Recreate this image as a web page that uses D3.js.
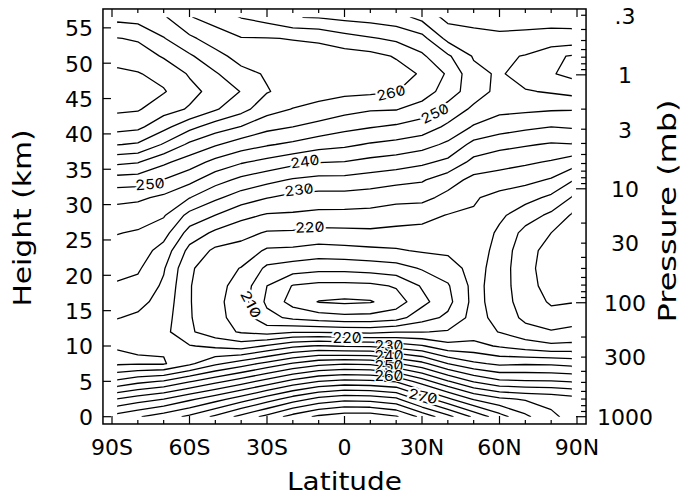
<!DOCTYPE html>
<html>
<head>
<meta charset="utf-8">
<script src="https://cdn.jsdelivr.net/npm/d3@7"></script>
<style>
  html, body { margin: 0; padding: 0; background: #fff; }
  svg { display: block; }
  text { font-family: 'DejaVu Sans', sans-serif; fill: #000; }
  .clabel { font-family: Inter, 'DejaVu Sans', sans-serif; font-size: 14px; font-feature-settings: 'zero' 1; }
</style>
</head>
<body>
<svg id="chart" width="689" height="499"></svg>
<script>
// grid columns (latitude, deg) and rows (height, km)
const lats = [-88, -80, -70, -60, -50, -40, -30, -20, -10, 0, 10, 20, 30, 40, 50, 60, 70, 80, 88]
const heights = [0, 2.5, 5, 7.5, 10, 12, 14, 16.25, 18.5, 21, 23.5, 26, 28.5, 31, 33.5, 36, 38.5, 41, 43.5, 46, 48.5, 51, 53.5, 56.5]

// zonal mean temperature (K), one row per height, south to north
const t00 = [262, 264.5, 267.5, 271, 276, 281.5, 286.5, 292, 296, 298, 298, 295.5, 288.5, 281.5, 274, 267, 261, 256, 253.5]
const t02 = [250.2, 252.5, 255, 259, 263, 267.5, 272.5, 277.5, 281.5, 283.5, 283, 281, 273, 266, 259.5, 256, 254.5, 253.5, 252]
const t05 = [236, 238.5, 240.5, 244.5, 248.5, 252.5, 257, 261.5, 265, 266.5, 266, 264.5, 257.5, 250.5, 244.5, 241, 240.5, 240.3, 239.7]
const t07 = [224.3, 224.6, 224.5, 229, 234, 237.5, 241.5, 245.5, 248.5, 249.5, 249, 245.5, 241.5, 235, 231, 229, 229.5, 229.3, 228.5]
const t10 = [225.2, 225.4, 225.8, 225.3, 224, 222.5, 225.5, 229, 230.5, 229.5, 229.2, 227.5, 225.5, 221.5, 221.5, 219.5, 217.5, 216, 216.2]
const t12 = [227.5, 227.2, 226.5, 220.8, 217, 214.5, 213, 214.5, 214.5, 214, 213.5, 214.8, 214.8, 215.5, 217.5, 214.8, 212, 210.5, 211.5]
const t14 = [230.2, 229.2, 227.3, 220.4, 216.5, 213, 206.5, 204, 202.5, 201.5, 201.8, 203, 208, 211, 216.8, 213.5, 208.8, 206.5, 207.5]
const t16 = [232.4, 231.4, 228.2, 220.3, 216.3, 212.5, 204, 198, 194.8, 194.2, 194.6, 197.5, 203.5, 208.5, 216.5, 213, 207.2, 204.5, 204.8]
const t18 = [234.5, 233.6, 229.2, 220.3, 216.5, 213.3, 205, 199.7, 198.5, 198.5, 198.8, 200.5, 205.5, 209.5, 216.5, 212.8, 206.5, 203.5, 202.8]
const t21 = [236.4, 235.7, 230.5, 220.7, 217.2, 214.8, 209, 207.5, 206.5, 206.5, 207.2, 208, 210.5, 212.5, 217, 212.8, 206.3, 203, 202]
const t23 = [238.2, 237.6, 233, 223.5, 219, 218, 214.3, 214, 213, 213.5, 214, 214.5, 215.5, 216, 217.8, 213.2, 206.8, 203.2, 202]
const t26 = [240.2, 239.5, 237, 228, 224, 221.7, 219.5, 219.3, 218.5, 218.7, 219, 218.5, 218.5, 218.3, 218.8, 214, 208.5, 205, 203.2]
const t28 = [242.8, 242.3, 240.5, 233.5, 230, 226.5, 224.5, 224.3, 223.6, 223.5, 223.3, 222.5, 221.5, 219.8, 219.5, 216, 212.3, 209, 204.5]
const t31 = [246.4, 245.9, 244, 240.2, 236, 232.5, 230.2, 228.5, 228, 228, 227.5, 226.5, 226.5, 223.5, 220.5, 218.5, 216.7, 214, 209.8]
const t33 = [252.8, 252.5, 249.8, 246.5, 242, 238.8, 236.5, 234.5, 233.5, 233.5, 232.6, 231.5, 230.5, 227.3, 223.5, 222.5, 221.5, 219.5, 215.5]
const t36 = [261.2, 260.3, 256, 252.5, 248.5, 245.5, 243.5, 241.5, 240.2, 239.8, 238.5, 237.5, 236, 233.8, 228.5, 227, 225.8, 224.5, 222.5]
const t38 = [270.2, 269.4, 264.5, 259, 255.5, 252.5, 250.5, 249, 247, 246, 244.5, 243.5, 242, 239, 233.5, 231.5, 230.5, 229.5, 229.8]
const t41 = [276.9, 276.2, 271.5, 266.5, 262.5, 259.8, 256.5, 255, 253.5, 251.5, 250.3, 249.2, 247.8, 244, 239.5, 237.5, 236, 235, 235.5]
const t43 = [280.9, 280.5, 277, 274.5, 270.5, 266.7, 262, 259.8, 258.2, 256.8, 255.5, 255.3, 252.5, 248.3, 244, 241.2, 241, 240.5, 240.3]
const t46 = [283, 282, 280.4, 276.5, 273.3, 269.8, 265.3, 263.2, 262.3, 261.2, 261, 260.1, 258, 252.3, 247.5, 243.5, 244.6, 245.5, 246.5]
const t48 = [281, 280.3, 278.5, 274.5, 270.5, 266.5, 264.5, 264, 263.5, 263.2, 262.8, 261.8, 259.5, 254.3, 246.5, 244.3, 247.5, 249.6, 251.3]
const t51 = [278.1, 277.6, 274.5, 270.7, 266.7, 263.1, 262, 261.9, 262.2, 262.2, 261.5, 259.6, 255.8, 250.8, 244.5, 244, 245.3, 249, 250.4]
const t53 = [275.2, 274.4, 270.3, 266, 262.5, 260.3, 260.2, 259.8, 259.2, 257, 255.5, 254, 251.7, 243.5, 240.5, 240.5, 241, 241.4, 241.7]
const t56 = [268.5, 268, 265.7, 260.3, 258, 254.8, 253, 250.2, 249.7, 248.7, 248, 247, 243.5, 238.5, 239.5, 239, 238.5, 238.5, 238]
const rows = [t00, t02, t05, t07, t10, t12, t14, t16, t18, t21, t23, t26, t28, t31, t33, t36, t38, t41, t43, t46, t48, t51, t53, t56]

// contour interval 5 K
const levels = [195, 200, 205, 210, 215, 220, 225, 230, 235, 240, 245, 250, 255, 260, 265, 270, 275, 280, 285, 290, 295]

// in-line contour labels: text, latitude, height, rotation
const labelText = ['250', '240', '230', '220', '210', '220', '230', '240', '250', '260', '270', '260', '250']
const labelLat = [-75.3, -15.3, -17.6, -13.4, -36.2, 1, 17.2, 17.2, 17.2, 17.2, 30.4, 18, 35]
const labelHeight = [32.9, 36.1, 32.1, 26.8, 15.9, 11.1, 10.0, 8.6, 7.2, 5.7, 2.9, 45.8, 42.9]
const labelAngle = [-4, -8, -7, -2, 62, 0, 0, 0, 0, 0, 12, -13, -26]

const latTicks = [-90, -60, -30, 0, 30, 60, 90]
const latTickLabels = ['90S', '60S', '30S', '0', '30N', '60N', '90N']
const latMinorTicks = [-80, -70, -50, -40, -20, -10, 10, 20, 40, 50, 70, 80]
const heightTicks = [0, 5, 10, 15, 20, 25, 30, 35, 40, 45, 50, 55]
const pressureTicks = [1000, 300, 100, 30, 10, 3, 1, 0.3]
const pressureTickLabels = ['1000', '300', '100', '30', '10', '3', '1', '.3']
const pressureDecades = [1000, 100, 10, 1]
const pressureMinorTicks = [900, 800, 700, 600, 500, 400, 300, 200, 90, 80, 70, 60, 50, 40, 30, 20,
  9, 8, 7, 6, 5, 4, 3, 2, 0.9, 0.8, 0.7, 0.6, 0.5, 0.4, 0.3]

const svg = d3.select('#chart')

const x = d3.scaleLinear().domain([-90, 90]).range([112, 577])
const y = d3.scaleLinear().domain([0, 55]).range([416.7, 27.85])
const latExtent = [-93.5, 93.5]
const heightExtent = [-1.03, 57.67]
// pressure axis uses a 7 km scale height
const p = d3.scaleLog().domain([1000, 0.3]).range([y(0), y(7 * Math.log(1000 / 0.3))])

const frameLeft = x(latExtent[0])
const frameRight = x(latExtent[1])
const frameTop = y(heightExtent[1])
const frameBottom = y(heightExtent[0])

// contour grid index -> data coordinates
const gx = d3.scaleLinear().domain(lats.map((d, i) => i + 0.5)).range(lats)
const gy = d3.scaleLinear().domain(heights.map((d, i) => i + 0.5)).range(heights)
const project = d3.geoTransform({
  point: function (px, py) { this.stream.point(x(gx(px)), y(gy(py))) },
})
const path = d3.geoPath(project)

const contours = d3.contours()
  .size([lats.length, heights.length])
  .thresholds(levels)(rows.flat())

svg.append('clipPath').attr('id', 'data')
  .append('rect')
  .attr('x', x(lats[0]))
  .attr('y', y(heights[heights.length - 1]))
  .attr('width', x(lats[lats.length - 1]) - x(lats[0]))
  .attr('height', y(heights[0]) - y(heights[heights.length - 1]))

svg.append('g')
  .attr('clip-path', 'url(#data)')
  .selectAll('path')
  .data(contours)
  .join('path')
  .attr('d', path)
  .attr('fill', 'none')
  .attr('stroke', '#000')
  .attr('stroke-width', 1.3)
  .attr('stroke-linejoin', 'round')

// contour labels with a white halo that breaks the line
svg.append('g')
  .selectAll('text')
  .data(labelText)
  .join('text')
  .attr('class', 'clabel')
  .attr('transform', (d, i) => `translate(${x(labelLat[i])},${y(labelHeight[i])}) rotate(${labelAngle[i]})`)
  .attr('text-anchor', 'middle')
  .attr('dy', '0.36em')
  .attr('textLength', 29)
  .attr('lengthAdjust', 'spacingAndGlyphs')
  .attr('stroke', '#fff')
  .attr('stroke-width', (d, i) => (i >= 6 && i <= 9) ? 2 : 4)
  .attr('paint-order', 'stroke')
  .text(d => d)

// frame
svg.append('rect')
  .attr('x', frameLeft).attr('y', frameTop)
  .attr('width', frameRight - frameLeft).attr('height', frameBottom - frameTop)
  .attr('fill', 'none').attr('stroke', '#000').attr('stroke-width', 1.5)

const ticks = svg.append('g').attr('stroke', '#000').attr('stroke-width', 1.2)

// latitude ticks on bottom and top, pointing inward
const latAll = latTicks.map(d => [d, 8]).concat(latMinorTicks.map(d => [d, 4]))
ticks.append('g').selectAll('line').data(latAll).join('line')
  .attr('x1', d => x(d[0])).attr('x2', d => x(d[0]))
  .attr('y1', frameBottom).attr('y2', d => frameBottom - d[1])
ticks.append('g').selectAll('line').data(latAll).join('line')
  .attr('x1', d => x(d[0])).attr('x2', d => x(d[0]))
  .attr('y1', frameTop).attr('y2', d => frameTop + d[1])

// height ticks on the left
ticks.append('g').selectAll('line').data(heightTicks).join('line')
  .attr('x1', frameLeft).attr('x2', frameLeft + 8)
  .attr('y1', d => y(d)).attr('y2', d => y(d))

// pressure ticks on the right
const pAll = pressureMinorTicks.map(d => [d, 5]).concat(pressureDecades.map(d => [d, 10]))
ticks.append('g').selectAll('line').data(pAll).join('line')
  .attr('x1', frameRight).attr('x2', d => frameRight - d[1])
  .attr('y1', d => p(d[0])).attr('y2', d => p(d[0]))

// tick labels
svg.append('g').selectAll('text').data(latTicks).join('text')
  .attr('x', d => x(d)).attr('y', 455)
  .attr('text-anchor', 'middle').attr('font-size', 22)
  .text((d, i) => latTickLabels[i])

svg.append('g').selectAll('text').data(heightTicks).join('text')
  .attr('x', 93).attr('y', d => y(d) + 8.3)
  .attr('text-anchor', 'end').attr('font-size', 22)
  .text(d => d)

svg.append('g').selectAll('text').data(pressureTicks).join('text')
  .attr('x', 625).attr('y', d => p(d) + 8.3)
  .attr('text-anchor', 'middle').attr('font-size', 22)
  .text((d, i) => pressureTickLabels[i])

// axis titles
svg.append('text')
  .attr('x', (frameLeft + frameRight) / 2).attr('y', 490)
  .attr('text-anchor', 'middle').attr('font-size', 25)
  .attr('textLength', 115).attr('lengthAdjust', 'spacingAndGlyphs')
  .text('Latitude')

svg.append('text')
  .attr('transform', 'translate(31,218) rotate(-90)')
  .attr('text-anchor', 'middle').attr('font-size', 25)
  .attr('textLength', 177).attr('lengthAdjust', 'spacingAndGlyphs')
  .text('Height (km)')

svg.append('text')
  .attr('transform', 'translate(676,211) rotate(-90)')
  .attr('text-anchor', 'middle').attr('font-size', 25)
  .attr('textLength', 223).attr('lengthAdjust', 'spacingAndGlyphs')
  .text('Pressure (mb)')
</script>
</body>
</html>
